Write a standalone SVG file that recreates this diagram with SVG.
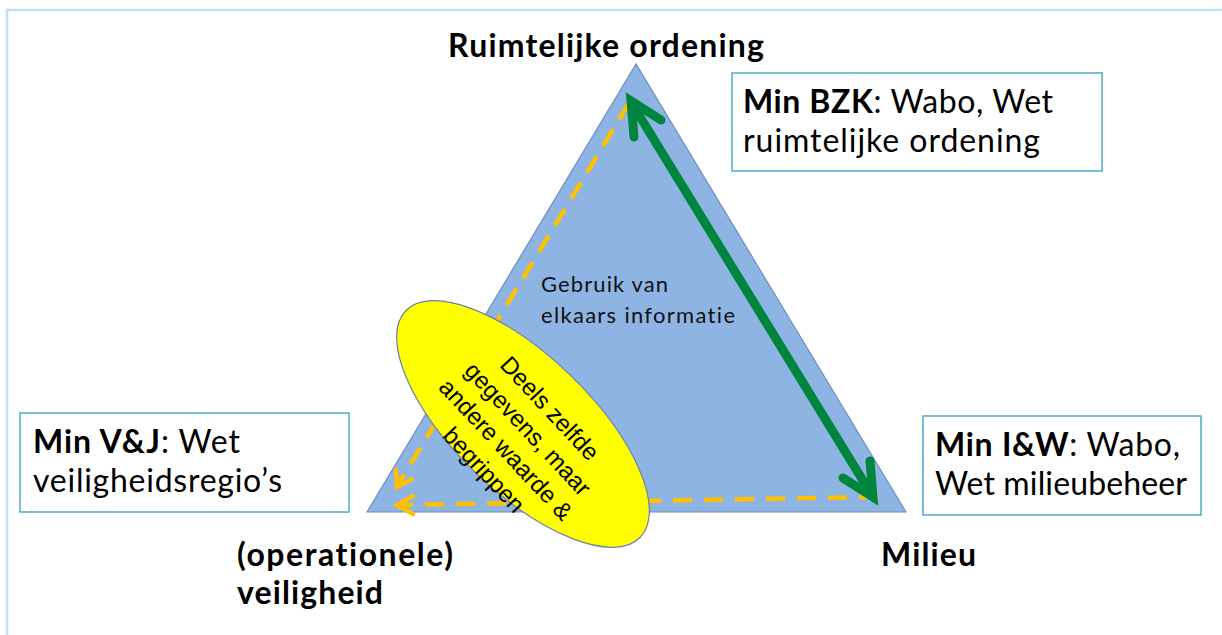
<svg xmlns="http://www.w3.org/2000/svg" width="1222" height="635" viewBox="0 0 1222 635">
  <style>
    .label { font-family: Lato, "Liberation Sans", sans-serif; font-size: 32px; fill: #000; font-variant-ligatures: none; }
    .bold { font-weight: bold; }
    .box { fill: #fff; stroke: #4bacc6; stroke-width: 1.5; }
    .small { font-family: Lato, "Liberation Sans", sans-serif; font-size: 22px; fill: #111; font-variant-ligatures: none; }
    .oval-text { font-family: "Liberation Sans", Arial, sans-serif; font-size: 24px; fill: #000; text-anchor: middle; }
    .green { fill: none; stroke: #00853e; stroke-width: 9; stroke-linecap: round; }
    .green-head { fill: none; stroke: #00853e; stroke-width: 9; stroke-linecap: round; stroke-linejoin: miter; }
    .orange { fill: none; stroke: #ffc000; stroke-width: 4.5; stroke-dasharray: 19 12; }
    .orange-head { fill: none; stroke: #ffc000; stroke-width: 4.5; stroke-linecap: round; stroke-linejoin: miter; }
  </style>

  <!-- slide frame -->
  <path d="M7 640 V10 H1230" fill="none" stroke="#bfe0f7" stroke-width="2.5"/>

  <!-- central triangle -->
  <g id="triangle">
    <polygon points="636,64 367,512 906,512" fill="#8eb4e3" stroke="#6d8fbf" stroke-width="1.2"/>
    <text class="small" x="541" y="292" textLength="127" lengthAdjust="spacing">Gebruik van</text>
    <text class="small" x="541" y="323" textLength="194" lengthAdjust="spacing">elkaars informatie</text>
  </g>

  <!-- connectors -->
  <g id="connectors">
    <!-- shared information, dashed -->
    <line class="orange" x1="629" y1="103" x2="399" y2="483"/>
    <polyline class="orange-head" points="412,479 397,487 396,470"/>
    <line class="orange" x1="878" y1="497" x2="400" y2="505"/>
    <polyline class="orange-head" points="413,496 397,505 413,514"/>
    <!-- two-way link ruimtelijke ordening / milieu -->
    <line class="green" x1="634" y1="107" x2="870" y2="492"/>
    <polyline class="green-head" points="634,137 631,101 661,120"/>
    <polyline class="green-head" points="843,478 873,497 870,461"/>
  </g>

  <!-- overlapping data ellipse -->
  <g id="overlap">
    <ellipse cx="523" cy="424" rx="163" ry="68" transform="rotate(44 523 424)" fill="#ffff00" stroke="#6d7fa8" stroke-width="1.2"/>
    <g transform="translate(516 440) rotate(47)">
      <text class="oval-text" x="0" y="-38">Deels zelfde</text>
      <text class="oval-text" x="0" y="-8">gegevens, maar</text>
      <text class="oval-text" x="0" y="22">andere waarde &amp;</text>
      <text class="oval-text" x="0" y="52">begrippen</text>
    </g>
  </g>

  <!-- corner labels -->
  <g id="label-ruimte">
    <text class="label bold" x="448" y="57" textLength="316" lengthAdjust="spacing">Ruimtelijke ordening</text>
  </g>
  <g id="label-veiligheid">
    <text class="label bold" x="237" y="566" textLength="216" lengthAdjust="spacing">(operationele)</text>
    <text class="label bold" x="237" y="604" textLength="146" lengthAdjust="spacing">veiligheid</text>
  </g>
  <g id="label-milieu">
    <text class="label bold" x="881" y="566" textLength="95" lengthAdjust="spacing">Milieu</text>
  </g>

  <!-- ministry boxes -->
  <g id="box-bzk">
    <rect class="box" x="732" y="73" width="370" height="98"/>
    <text class="label" x="743" y="113" textLength="310" lengthAdjust="spacing"><tspan class="bold">Min BZK</tspan>: Wabo, Wet</text>
    <text class="label" x="743" y="152" textLength="297" lengthAdjust="spacing">ruimtelijke ordening</text>
  </g>
  <g id="box-vj">
    <rect class="box" x="20" y="413" width="329" height="99"/>
    <text class="label" x="33" y="453" textLength="207" lengthAdjust="spacing"><tspan class="bold">Min V&amp;J</tspan>: Wet</text>
    <text class="label" x="33" y="492" textLength="249" lengthAdjust="spacing">veiligheidsregio’s</text>
  </g>
  <g id="box-iw">
    <rect class="box" x="923" y="416" width="278" height="99"/>
    <text class="label" x="935" y="456" textLength="245" lengthAdjust="spacing"><tspan class="bold">Min I&amp;W</tspan>: Wabo,</text>
    <text class="label" x="935" y="495" textLength="252" lengthAdjust="spacing">Wet milieubeheer</text>
  </g>
</svg>
